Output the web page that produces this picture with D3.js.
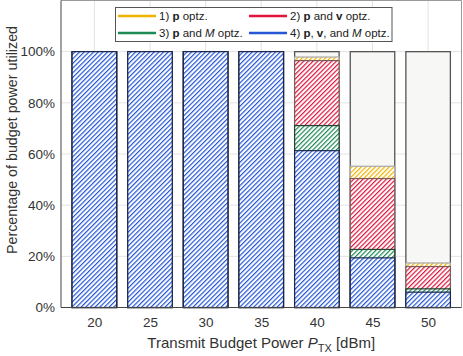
<!DOCTYPE html>
<html><head><meta charset="utf-8">
<script src="https://cdn.jsdelivr.net/npm/d3@7"></script>
<style>body{margin:0;background:#fff;}svg{display:block;font-family:"Liberation Sans",Arial,Helvetica,sans-serif;}</style>
</head><body><svg id="c" width="463" height="356"></svg>
<script>
const categories = [20, 25, 30, 35, 40, 45, 50];
const s1 = [100, 100, 100, 100, 97.9, 55.2, 17.4]; // 1) p optz.
const s2 = [100, 100, 100, 100, 96.5, 50.4, 16.0]; // 2) p and v optz.
const s3 = [100, 100, 100, 100, 71.1, 22.7, 7.3];  // 3) p and M optz.
const s4 = [100, 100, 100, 100, 61.3, 19.4, 6.0];  // 4) p, v, and M optz.
const budget = [100, 100, 100, 100, 100, 100, 100];
const yTicks = [0, 20, 40, 60, 80, 100];

const series = [
  {id: "s1", vals: s1, color: "#f0b400", stroke: "#a8a8a8"},
  {id: "s2", vals: s2, color: "#e0143c", stroke: "#7a5a5a"},
  {id: "s3", vals: s3, color: "#1e8a55", stroke: "#23422f"},
  {id: "s4", vals: s4, color: "#2456d6", stroke: "#1a2550"}
];

const svg = d3.select("#c");
const L = 61, R = 461.5, T = 0.5, B = 307.5;
const x = d3.scaleLinear().domain([17, 53]).range([L, R]);
const y = d3.scaleLinear().domain([0, 120]).range([B, T]);
const bw = x(4) - x(0);

const defs = svg.append("defs");
const P = 3.3;
series.forEach(s => {
  const p = defs.append("pattern").attr("id", "h" + s.id)
    .attr("patternUnits", "userSpaceOnUse").attr("width", P).attr("height", P)
    .attr("patternTransform", "rotate(45)");
  p.append("rect").attr("width", P).attr("height", P).attr("fill", "#fff");
  p.append("rect").attr("width", 1.2).attr("height", P).attr("fill", s.color);
});

// grid
const g = svg.append("g");
g.selectAll(".gx").data(categories).enter().append("line")
  .attr("x1", d => x(d)).attr("x2", d => x(d)).attr("y1", T).attr("y2", B)
  .attr("stroke", "#e3e3e3").attr("stroke-width", 1);
g.selectAll(".gy").data(yTicks.concat([120])).enter().append("line")
  .attr("x1", L).attr("x2", R).attr("y1", d => y(d)).attr("y2", d => y(d))
  .attr("stroke", "#e3e3e3").attr("stroke-width", 1);

// budget background bars
svg.append("g").selectAll("rect").data(categories).enter().append("rect")
  .attr("x", d => x(d) - bw / 2).attr("width", bw)
  .attr("y", (d, i) => y(budget[i])).attr("height", (d, i) => y(0) - y(budget[i]))
  .attr("fill", "#f7f7f5").attr("stroke", "#555").attr("stroke-width", 1.3);

// overlaid series bars
series.forEach(s => {
  svg.append("g").selectAll("rect").data(categories).enter().append("rect")
    .attr("x", d => x(d) - bw / 2).attr("width", bw)
    .attr("y", (d, i) => y(s.vals[i])).attr("height", (d, i) => y(0) - y(s.vals[i]))
    .attr("fill", `url(#h${s.id})`).attr("stroke", s.stroke).attr("stroke-width", 1.2);
});

// box
svg.append("line").attr("x1", L).attr("x2", R).attr("y1", T).attr("y2", T).attr("stroke", "#999");
svg.append("line").attr("x1", R).attr("x2", R).attr("y1", T).attr("y2", B).attr("stroke", "#999");
svg.append("line").attr("x1", L).attr("x2", L).attr("y1", T).attr("y2", B).attr("stroke", "#444");
svg.append("line").attr("x1", L).attr("x2", R).attr("y1", B).attr("y2", B).attr("stroke", "#444");

// axes labels
const yAxis = d3.axisLeft(y).tickValues(yTicks).tickFormat(d => d + "%").tickSize(0).tickPadding(6);
const ya = svg.append("g").attr("transform", `translate(${L},0)`).call(yAxis);
ya.select(".domain").remove();
ya.selectAll("text").attr("font-size", 13.5).attr("fill", "#333").attr("font-family", "Liberation Sans, Arial, sans-serif");

const xAxis = d3.axisBottom(x).tickValues(categories).tickFormat(d => d).tickSize(0).tickPadding(10);
const xa = svg.append("g").attr("transform", `translate(0,${B})`).call(xAxis);
xa.select(".domain").remove();
xa.selectAll("text").attr("font-size", 13.5).attr("fill", "#333").attr("font-family", "Liberation Sans, Arial, sans-serif");

const xl = svg.append("text").attr("x", (L + R) / 2).attr("y", 348).attr("text-anchor", "middle")
  .attr("font-size", 15).attr("fill", "#333");
xl.append("tspan").text("Transmit Budget Power ");
xl.append("tspan").attr("font-style", "italic").text("P");
xl.append("tspan").attr("dy", 4).attr("font-size", 11).text("TX");
xl.append("tspan").attr("dy", -4).text(" [dBm]");

svg.append("text").attr("transform", "translate(17,140) rotate(-90)").attr("text-anchor", "middle")
  .attr("font-size", 14.3).attr("fill", "#333").text("Percentage of budget power utilized");

// legend
const lg = svg.append("g");
lg.append("rect").attr("x", 115.5).attr("y", 7.5).attr("width", 276.5).attr("height", 34)
  .attr("fill", "#fff").attr("stroke", "#555").attr("stroke-width", 1);
const legendItems = [
  {s: series[0], x: 118, y: 16, parts: [["1) ", ""], ["p", "b"], [" optz.", ""]]},
  {s: series[1], x: 249, y: 16, parts: [["2) ", ""], ["p", "b"], [" and ", ""], ["v", "b"], [" optz.", ""]]},
  {s: series[2], x: 118, y: 33, parts: [["3) ", ""], ["p", "b"], [" and ", ""], ["M", "i"], [" optz.", ""]]},
  {s: series[3], x: 249, y: 33, parts: [["4) ", ""], ["p", "b"], [", ", ""], ["v", "b"], [", and ", ""], ["M", "i"], [" optz.", ""]]}
];
legendItems.forEach(it => {
  lg.append("line").attr("x1", it.x).attr("x2", it.x + 38).attr("y1", it.y).attr("y2", it.y)
    .attr("stroke", it.s.color).attr("stroke-width", 2.5);
  const t = lg.append("text").attr("x", it.x + 41).attr("y", it.y + 4).attr("font-size", 11.5).attr("fill", "#222");
  it.parts.forEach(p => {
    const ts = t.append("tspan").text(p[0]);
    if (p[1] === "b") ts.attr("font-weight", "bold");
    if (p[1] === "i") ts.attr("font-style", "italic");
  });
});
</script></body></html>
